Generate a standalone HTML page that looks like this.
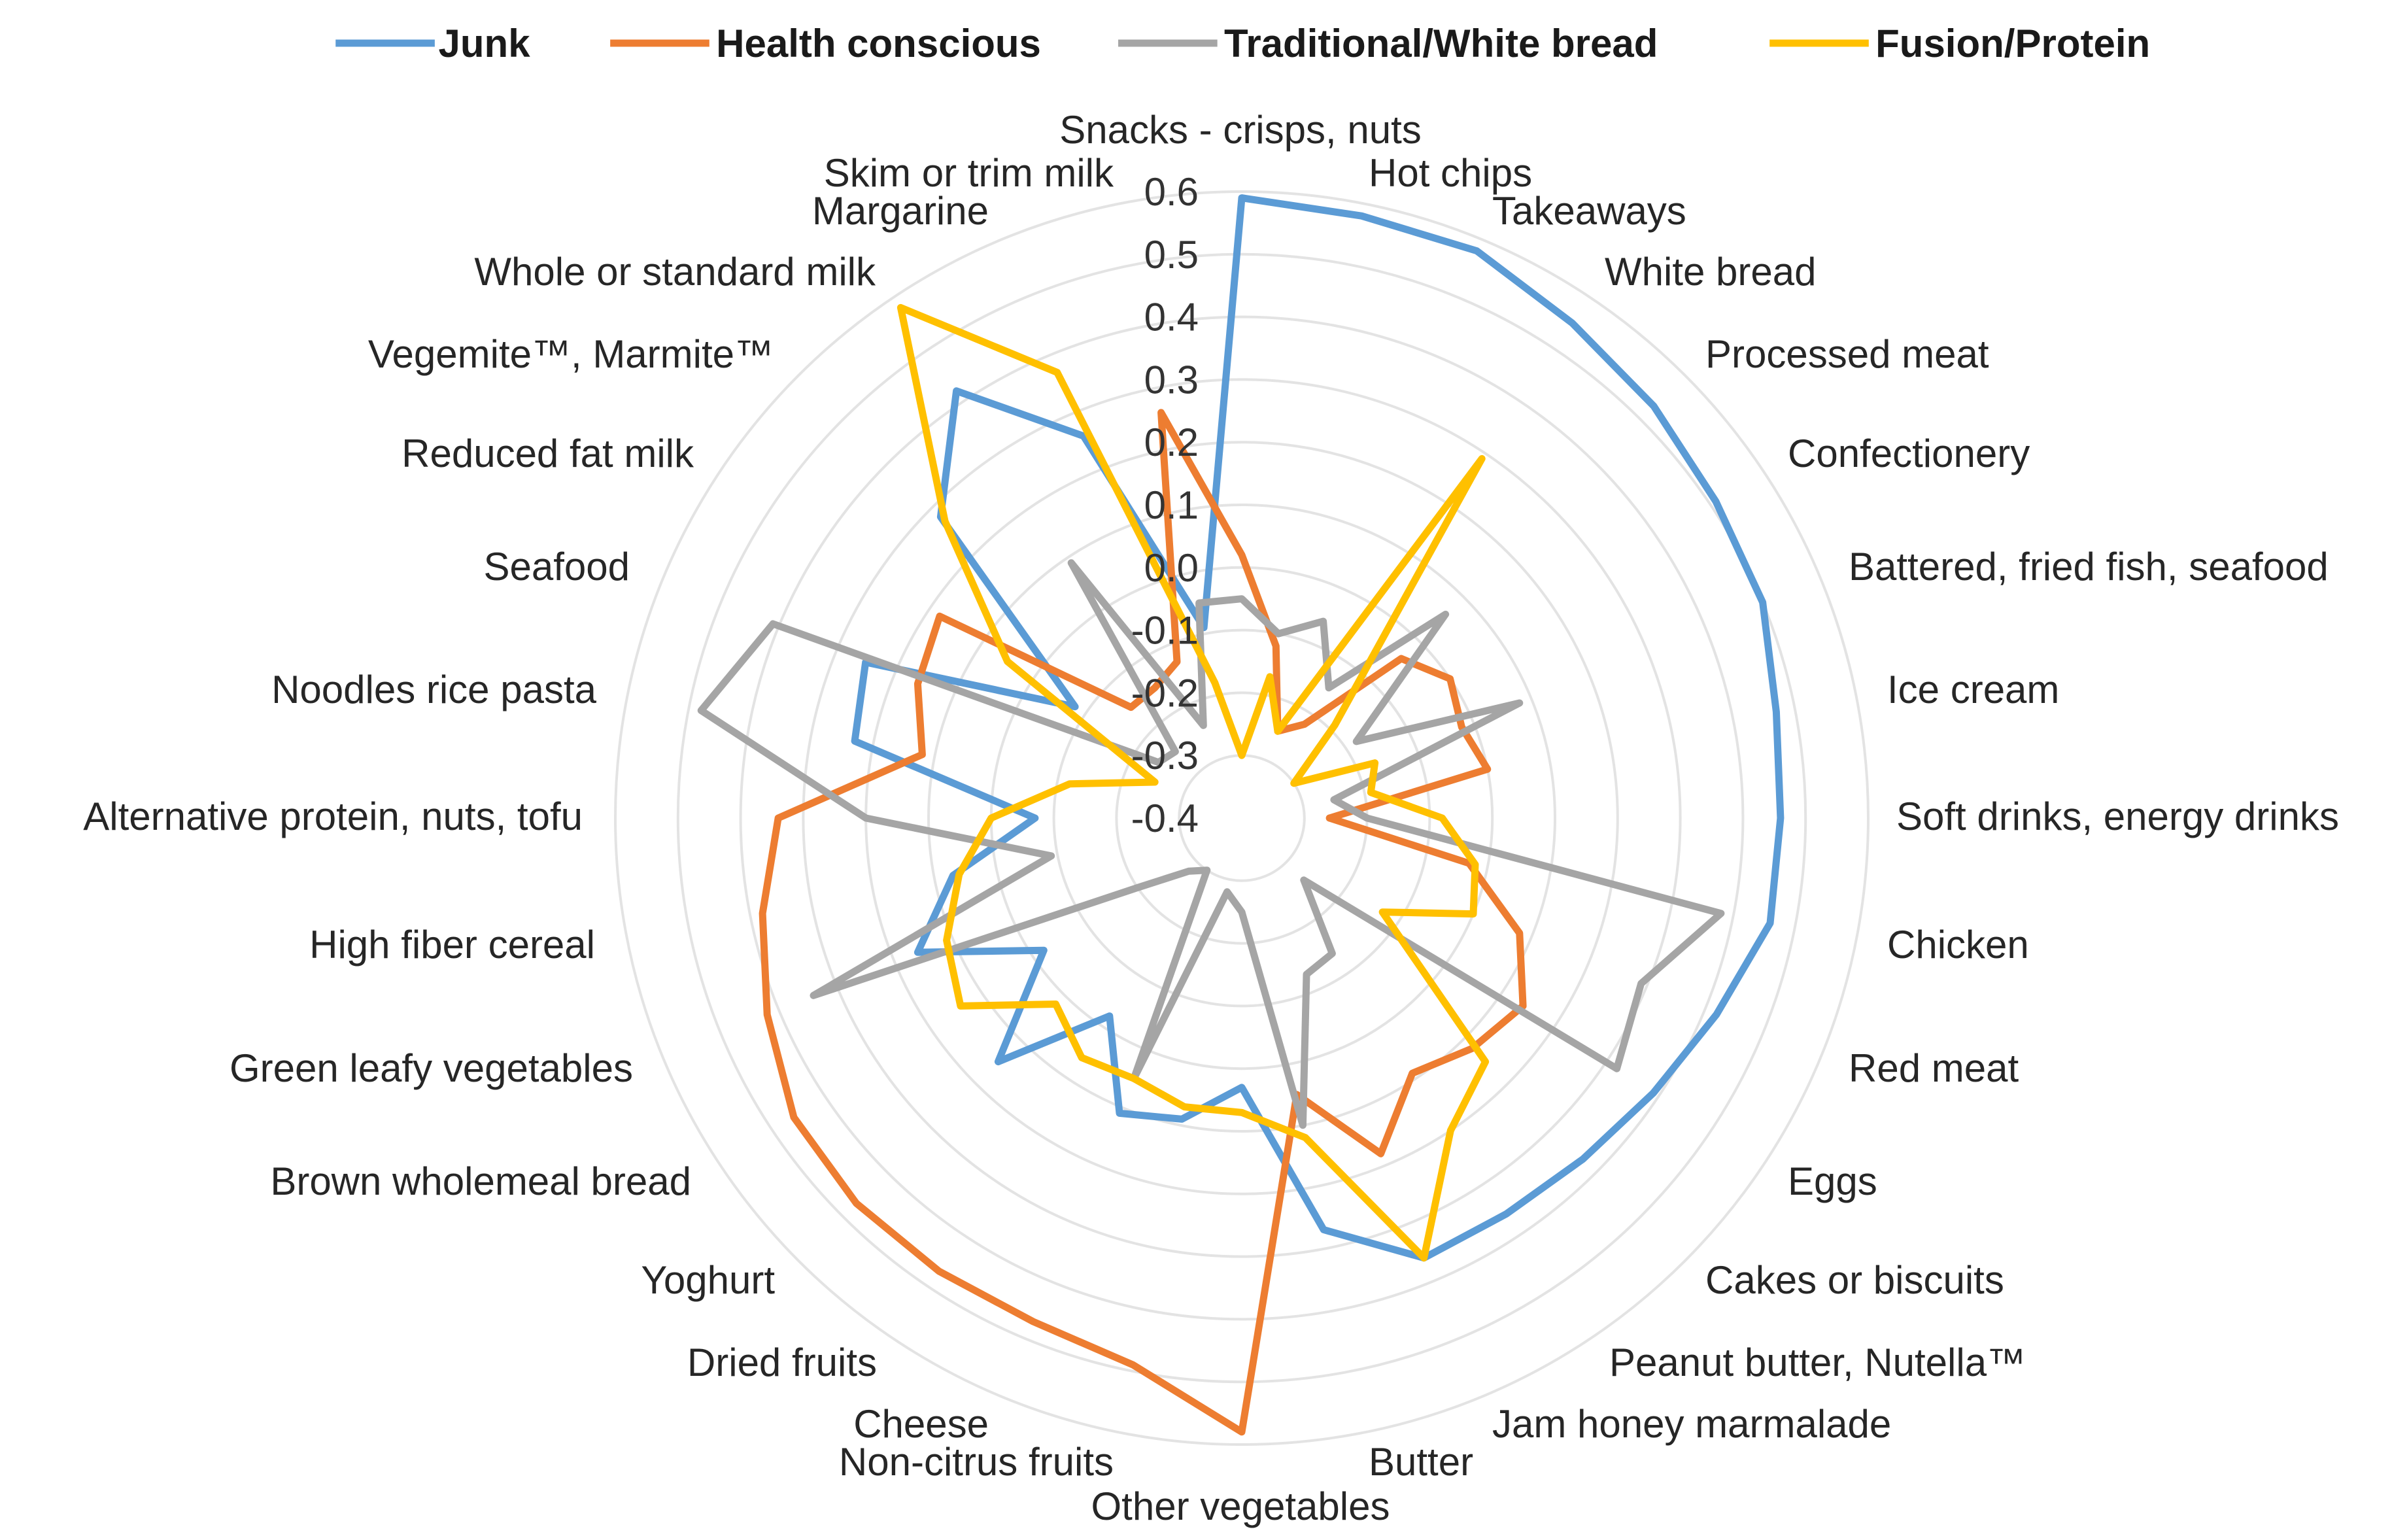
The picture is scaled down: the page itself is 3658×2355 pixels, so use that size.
<!DOCTYPE html>
<html><head><meta charset="utf-8"><title>Dietary patterns radar chart</title>
<style>
html,body{margin:0;padding:0;background:#fff;}
svg{display:block;font-family:"Liberation Sans",Calibri,sans-serif;}
</style></head>
<body>
<svg id="chart" width="3658" height="2355" viewBox="0 0 3658 2355" xmlns="http://www.w3.org/2000/svg">
  <rect width="3658" height="2355" fill="#ffffff"/>
  <g id="grid"></g>
  <g id="series"></g>
  <g id="ticks"></g>
  <g id="cats"></g>
  <g id="legend"></g>
</svg>
<script>
const categories = ["Snacks - crisps, nuts","Hot chips","Takeaways","White bread","Processed meat","Confectionery","Battered, fried fish, seafood","Ice cream","Soft drinks, energy drinks","Chicken","Red meat","Eggs","Cakes or biscuits","Peanut butter, Nutella\u2122","Jam honey marmalade","Butter","Other vegetables","Non-citrus fruits","Cheese","Dried fruits","Yoghurt","Brown wholemeal bread","Green leafy vegetables","High fiber cereal","Alternative protein, nuts, tofu","Noodles rice pasta","Seafood","Reduced fat milk","Vegemite\u2122, Marmite\u2122","Whole or standard milk","Margarine","Skim or trim milk"];
const seriesNames = ["Junk","Health conscious","Traditional/White bread","Fusion/Protein"];
const junkValues = [0.59,0.58,0.58,0.55,0.53,0.51,0.50,0.47,0.46,0.46,0.42,0.39,0.37,0.36,0.36,0.27,0.03,0.09,0.11,-0.02,0.15,-0.02,0.16,0.07,-0.07,0.23,0.25,-0.08,0.28,0.42,0.26,-0.09];
const healthValues = [0.02,-0.12,-0.25,-0.22,-0.04,0.0,-0.02,0.0,-0.26,-0.03,0.08,0.14,0.12,0.09,0.18,0.05,0.58,0.49,0.47,0.47,0.47,0.46,0.42,0.38,0.34,0.12,0.16,0.18,-0.15,-0.15,-0.13,0.26];
const tradValues = [-0.05,-0.1,-0.06,-0.15,0.06,-0.18,0.08,-0.25,-0.2,0.38,0.29,0.32,-0.26,-0.14,-0.13,0.1,-0.25,-0.28,0.05,-0.3,-0.28,-0.2,0.34,-0.09,0.2,0.48,0.41,-0.24,-0.25,0.09,-0.24,-0.05];
const fusionValues = [-0.3,-0.17,-0.25,0.29,-0.19,-0.3,-0.17,-0.19,-0.08,-0.02,0.0,-0.13,0.15,0.2,0.36,0.12,0.07,0.07,0.05,0.06,0.02,0.14,0.11,0.06,0.0,-0.12,-0.25,0.05,0.27,0.58,0.37,-0.18];
const tickValues = [-0.4,-0.3,-0.2,-0.1,0.0,0.1,0.2,0.3,0.4,0.5,0.6];
const tickLabels = ["-0.4","-0.3","-0.2","-0.1","0.0","0.1","0.2","0.3","0.4","0.5","0.6"];

const NS = "http://www.w3.org/2000/svg";
const CX = 1899, CY = 1251, RMAX = 958, VMIN = -0.4, VMAX = 0.6;
const colors = ["#5B9BD5","#ED7D31","#A5A5A5","#FFC000"];
function rScale(v){ return (v - VMIN) / (VMAX - VMIN) * RMAX; }
function angle(i){ return i * 2 * Math.PI / categories.length; }
function pt(i, v){ const r = rScale(v), a = angle(i); return [CX + r*Math.sin(a), CY - r*Math.cos(a)]; }
function mk(tag, attrs, parent){ const e = document.createElementNS(NS, tag); for (const k in attrs) e.setAttribute(k, attrs[k]); parent.appendChild(e); return e; }

const grid = document.getElementById('grid');
tickValues.forEach(function(v, i){
  if (v <= VMIN) return;
  const c = mk('circle', {cx:CX, cy:CY, r:rScale(v), fill:'none', stroke:'#e3e3e3', 'stroke-width':4}, grid);
  
  
});

const sg = document.getElementById('series');
[junkValues, healthValues, tradValues, fusionValues].forEach(function(vals, s){
  const pts = vals.map(function(v, i){ return pt(i, v).map(function(n){return n.toFixed(1);}).join(','); }).join(' ');
  const p = mk('polygon', {points:pts, fill:'none', stroke:colors[s], 'stroke-width':11, 'stroke-linejoin':'round'}, sg);
  
  
});

const tg = document.getElementById('ticks');
tickValues.forEach(function(v, i){
  const t = mk('text', {x:1833, y:CY - rScale(v) + 21, 'text-anchor':'end', 'font-size':60, fill:'#333'}, tg);
  t.textContent = tickLabels[i];
  
  
});

const S = 3658/1568;
const labelPos = [
 [813,85,'middle'],[897,113,'start'],[978,138,'start'],[1052,178,'start'],[1118,232,'start'],[1172,297,'start'],
 [1212,371,'start'],[1237,452,'start'],[1243,535,'start'],[1237,619,'start'],[1212,700,'start'],[1172,774,'start'],
 [1118,839,'start'],[1055,893,'start'],[978,933,'start'],[897,958,'start'],[813,987,'middle'],[730,958,'end'],
 [648,933,'end'],[575,893,'end'],[508,839,'end'],[453,774,'end'],[415,700,'end'],[390,619,'end'],[382,535,'end'],
 [391,452,'end'],[413,371,'end'],[455,297,'end'],[507,232,'end'],[574,178,'end'],[648,138,'end'],[730,113,'end']];
const cg = document.getElementById('cats');
categories.forEach(function(name, i){
  const lp = labelPos[i];
  const t = mk('text', {x:(lp[0]*S).toFixed(0), y:(lp[1]*S + 21).toFixed(0), 'text-anchor':lp[2], 'font-size':60, fill:'#262626'}, cg);
  t.textContent = name;
  
  
});

const lg = document.getElementById('legend');
const legendX = [[220,290],[400,472],[733,805],[1160,1232]];
seriesNames.forEach(function(name, s){
  const x0 = legendX[s][0]*S, x1 = legendX[s][1]*S;
  const g = mk('g', {}, lg);
  
  
  const l = mk('line', {x1:x0, y1:66, x2:x0+65*S, y2:66, stroke:colors[s], 'stroke-width':11}, g);
  
  
  const t = mk('text', {x:x1-6, y:87, 'font-size':60, 'font-weight':'bold', fill:'#1a1a1a'}, g);
  t.textContent = name;
  
  
});
</script>
</body></html>
